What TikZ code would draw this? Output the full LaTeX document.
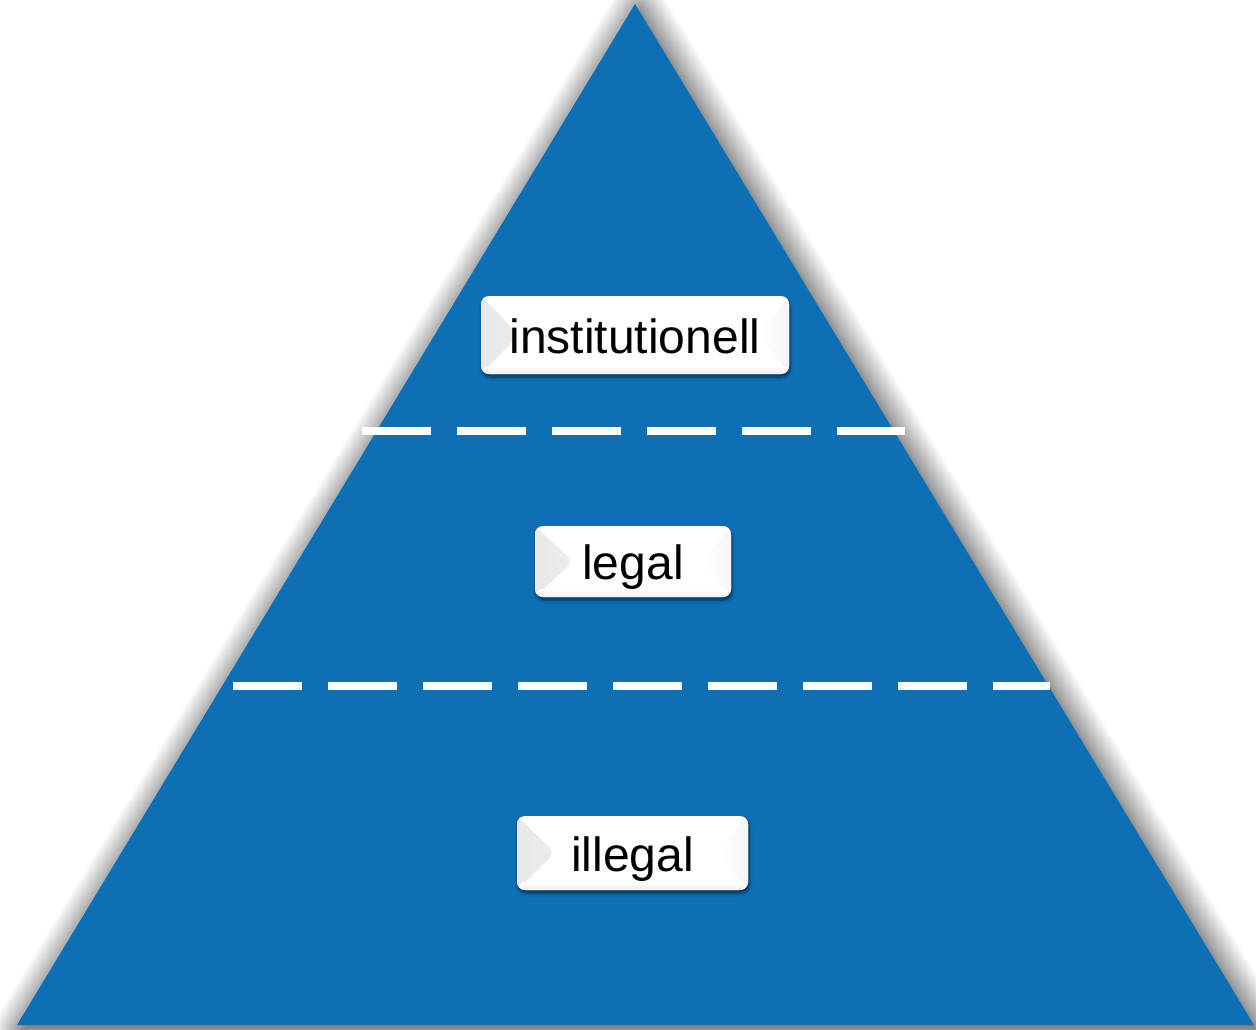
\documentclass[tikz,border=0pt]{standalone}
\usepackage{fontspec}
\setmainfont{Liberation Sans}
\usetikzlibrary{shadows,shadows.blur}
\definecolor{pyrblue}{RGB}{15,111,181}
\tikzset{
  x=1pt, y=-1pt,
  pyramid/.style={fill=pyrblue, draw=none,
    blur shadow={shadow xshift=4pt, shadow yshift=-5pt, shadow blur radius=28pt, shadow blur steps=25, shadow opacity=85}},
  sepline/.style={white, line width=8pt, dash pattern=on 69pt off 26pt},
  labelbox/.style={fill=white, draw=none, rounded corners=8pt, inner sep=0pt,
    font=\fontsize{48}{56}\selectfont, text height=36pt, text depth=0pt,
    blur shadow={shadow xshift=1pt, shadow yshift=-3pt, shadow blur radius=3pt, shadow blur steps=6, shadow opacity=55},
    path picture={
      \shade[left color=black!9, right color=white] (path picture bounding box.north west) -- ([xshift=38pt]path picture bounding box.west) -- (path picture bounding box.south west) -- cycle;
      \shade[right color=black!4, left color=white] (path picture bounding box.north east) -- ([xshift=-30pt]path picture bounding box.east) -- (path picture bounding box.south east) -- cycle;
      \shade[top color=white, bottom color=black!6] ([yshift=8pt]path picture bounding box.south west) rectangle (path picture bounding box.south east);
    }},
}
\begin{document}
\begin{tikzpicture}
\useasboundingbox (0,0) rectangle (1256,1030);
\coordinate (apex) at (635,4);
\coordinate (bl) at (17,1025);
\coordinate (br) at (1254,1025);
\path[pyramid] (apex) -- (br) -- (bl) -- cycle;
\coordinate (d1a) at (362,431);
\coordinate (d1b) at (905,431);
\coordinate (d2a) at (233,686);
\coordinate (d2b) at (1050,686);
\draw[sepline] (d1a) -- (d1b);
\draw[sepline] (d2a) -- (d2b);
\node[labelbox, minimum width=308pt, minimum height=78pt] (inst) at (635,335) {institutionell};
\node[labelbox, minimum width=196pt, minimum height=71pt] (legal) at (633,561.5) {legal};
\node[labelbox, minimum width=231pt, minimum height=74pt] (illegal) at (632.5,853) {illegal};
\end{tikzpicture}
\end{document}
